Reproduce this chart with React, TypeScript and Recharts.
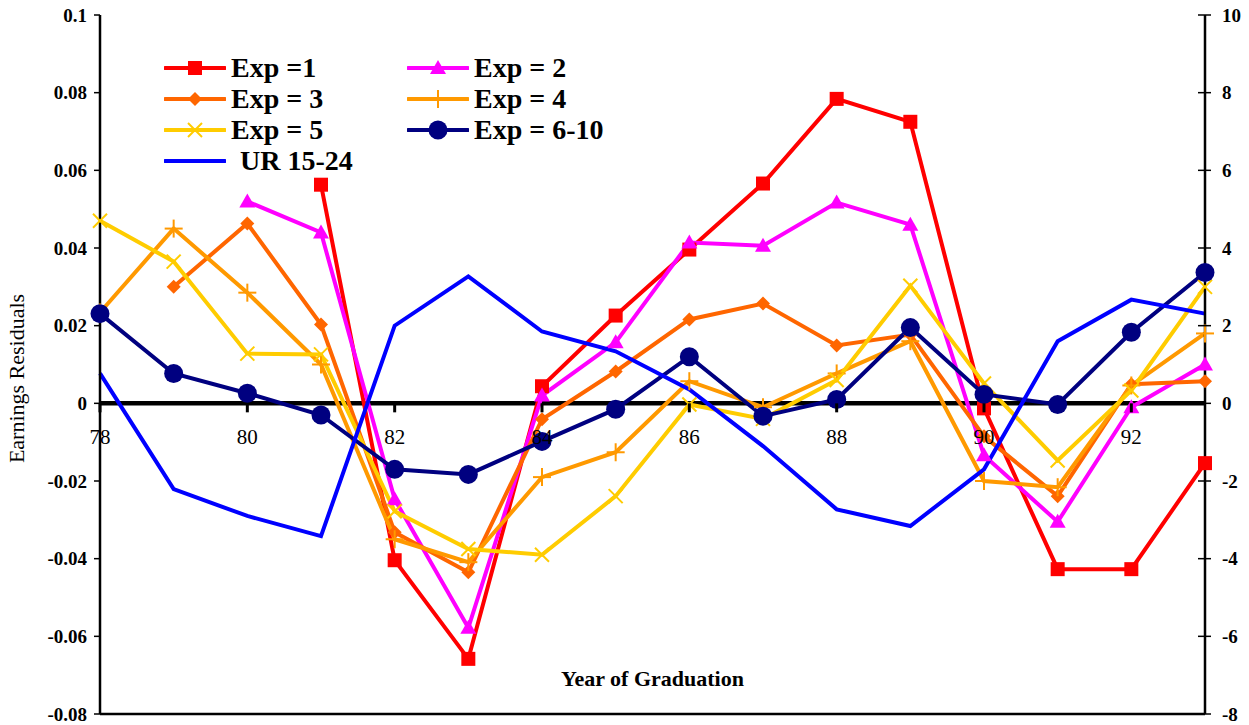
import React from 'react';
import { LineChart, Line, XAxis, YAxis, ReferenceLine, Legend } from 'recharts';

const years = [78, 79, 80, 81, 82, 83, 84, 85, 86, 87, 88, 89, 90, 91, 92, 93];

const exp1 = [null, null, null, 0.0563, -0.0404, -0.0658, 0.0044, 0.0226, 0.0396, 0.0566, 0.0784, 0.0725, -0.0013, -0.0427, -0.0427, -0.0154];
const exp2 = [null, null, 0.052, 0.044, -0.0247, -0.0578, 0.002, 0.0157, 0.0414, 0.0406, 0.0517, 0.046, -0.0134, -0.0305, -0.001, 0.010];
const exp3 = [null, 0.030, 0.0463, 0.0203, -0.0332, -0.0435, -0.0041, 0.0082, 0.0216, 0.0257, 0.0149, 0.0177, -0.0085, -0.0239, 0.0049, 0.0057];
const exp4 = [0.0234, 0.045, 0.0285, 0.010, -0.035, -0.0409, -0.019, -0.0126, 0.0057, -0.001, 0.0077, 0.016, -0.020, -0.0216, 0.0046, 0.018];
const exp5 = [0.047, 0.0365, 0.0128, 0.0126, -0.0278, -0.0375, -0.039, -0.0239, -0.0003, -0.004, 0.006, 0.0303, 0.0051, -0.0147, 0.0033, 0.030];
const exp6to10 = [0.0231, 0.0077, 0.0026, -0.003, -0.017, -0.0183, -0.0098, -0.0015, 0.012, -0.0033, 0.001, 0.0195, 0.0023, -0.0003, 0.0183, 0.0337];
const ur1524 = [0.77, -2.21, -2.9, -3.42, 2.0, 3.27, 1.85, 1.34, 0.36, -1.1, -2.73, -3.16, -1.7, 1.6, 2.67, 2.31];

const xTicks = [78, 80, 82, 84, 86, 88, 90, 92];
const leftTicks = [0.1, 0.08, 0.06, 0.04, 0.02, 0, -0.02, -0.04, -0.06, -0.08];
const rightTicks = [10, 8, 6, 4, 2, 0, -2, -4, -6, -8];

const data = years.map((year, i) => ({
  year,
  exp1: exp1[i],
  exp2: exp2[i],
  exp3: exp3[i],
  exp4: exp4[i],
  exp5: exp5[i],
  exp6to10: exp6to10[i],
  ur: ur1524[i],
}));

const FONT = '"Liberation Serif", "DejaVu Serif", serif';
const W = 1249;
const H = 725;
const TOP = 15;
const BOTTOM = 714;
const RIGHT = 1205;
const ZERO_Y = TOP + ((BOTTOM - TOP) * 0.1) / 0.18;

type MarkerKind = 'square' | 'triangle' | 'diamond' | 'plus' | 'cross' | 'circle' | 'none';

const Marker = ({ kind, cx, cy, color }: { kind: MarkerKind; cx: number; cy: number; color: string }) => {
  switch (kind) {
    case 'square':
      return <rect x={cx - 7} y={cy - 7} width={14} height={14} fill={color} />;
    case 'triangle':
      return <polygon points={`${cx},${cy - 8} ${cx + 8},${cy + 6} ${cx - 8},${cy + 6}`} fill={color} />;
    case 'diamond':
      return <polygon points={`${cx},${cy - 7} ${cx + 7},${cy} ${cx},${cy + 7} ${cx - 7},${cy}`} fill={color} />;
    case 'plus':
      return (
        <g stroke={color} strokeWidth={2}>
          <line x1={cx - 9} x2={cx + 9} y1={cy} y2={cy} />
          <line x1={cx} x2={cx} y1={cy - 9} y2={cy + 9} />
        </g>
      );
    case 'cross':
      return (
        <g stroke={color} strokeWidth={2}>
          <line x1={cx - 7} x2={cx + 7} y1={cy - 7} y2={cy + 7} />
          <line x1={cx - 7} x2={cx + 7} y1={cy + 7} y2={cy - 7} />
        </g>
      );
    case 'circle':
      return <circle cx={cx} cy={cy} r={9.5} fill={color} />;
    default:
      return null;
  }
};

const dotFor = (kind: MarkerKind, color: string) => (props: any) => {
  const { cx, cy, index, value } = props;
  if (value == null || cx == null || cy == null) return <g key={`d-${index}`} />;
  return (
    <g key={`d-${index}`}>
      <Marker kind={kind} cx={cx} cy={cy} color={color} />
    </g>
  );
};

const series: { key: string; name: string; color: string; marker: MarkerKind; axis: string }[] = [
  { key: 'exp1', name: 'Exp =1', color: '#FF0000', marker: 'square', axis: 'left' },
  { key: 'exp2', name: 'Exp = 2', color: '#FF00FF', marker: 'triangle', axis: 'left' },
  { key: 'exp3', name: 'Exp = 3', color: '#FF6600', marker: 'diamond', axis: 'left' },
  { key: 'exp4', name: 'Exp = 4', color: '#FF9900', marker: 'plus', axis: 'left' },
  { key: 'exp5', name: 'Exp = 5', color: '#FFCC00', marker: 'cross', axis: 'left' },
  { key: 'exp6to10', name: 'Exp = 6-10', color: '#000080', marker: 'circle', axis: 'left' },
  { key: 'ur', name: 'UR 15-24', color: '#0000FF', marker: 'none', axis: 'right' },
];

const XTick = (props: any) => {
  const { x, payload } = props;
  return (
    <g>
      <line x1={x} x2={x} y1={ZERO_Y} y2={ZERO_Y + 9} stroke="#000" strokeWidth={3} />
      <text x={x} y={ZERO_Y + 41} textAnchor="middle" fontSize={21} fontFamily={FONT} fill="#000">
        {payload.value}
      </text>
    </g>
  );
};

// right axis ticks cross the axis line
const RightTick = (props: any) => {
  const { y, payload } = props;
  return (
    <g>
      <line x1={RIGHT - 7} x2={RIGHT + 6} y1={y} y2={y} stroke="#000" strokeWidth={1.5} />
      <text x={RIGHT + 17} y={y} dy="0.35em" textAnchor="start" fontSize={19} fontWeight="bold" fontFamily={FONT} fill="#000">
        {payload.value}
      </text>
    </g>
  );
};

const YLabel = (props: any) => {
  const vb = props.viewBox || { x: 0, y: TOP, width: 100, height: BOTTOM - TOP };
  const x = 24;
  const y = vb.y + vb.height * 0.52;
  return (
    <text x={x} y={y} transform={`rotate(-90, ${x}, ${y})`} textAnchor="middle" fontSize={22} fontFamily={FONT} fill="#000">
      Earnings Residuals
    </text>
  );
};

const XLabel = (props: any) => {
  const vb = props.viewBox || { x: 100, y: BOTTOM, width: RIGHT - 100, height: H - BOTTOM };
  return (
    <text x={vb.x + vb.width / 2} y={vb.y - 28} textAnchor="middle" fontSize={22} fontWeight="bold" fontFamily={FONT} fill="#000">
      Year of Graduation
    </text>
  );
};

const LegendBox = () => (
  <div style={{ display: 'grid', gridTemplateColumns: '243px 243px', fontFamily: FONT }}>
    {series.map((s) => (
      <div key={s.key} style={{ display: 'flex', alignItems: 'center', height: 31 }}>
        <svg width={62} height={24} style={{ flex: 'none' }}>
          <line x1={1} x2={61} y1={12} y2={12} stroke={s.color} strokeWidth={4} strokeLinecap="round" />
          <Marker kind={s.marker} cx={31} cy={12} color={s.color} />
        </svg>
        <span style={{ fontWeight: 'bold', fontSize: 28, marginLeft: s.marker === 'none' ? 14 : 5, whiteSpace: 'pre', lineHeight: '31px' }}>
          {s.name}
        </span>
      </div>
    ))}
  </div>
);

export default function App() {
  return (
    <div style={{ position: 'absolute', left: 0, top: 0, width: W, height: H, background: '#fff' }}>
      <LineChart width={W} height={H} data={data} margin={{ top: TOP, right: 0, bottom: 0, left: 0 }}>
        <XAxis
          dataKey="year"
          type="number"
          domain={[78, 93]}
          ticks={xTicks}
          tick={<XTick />}
          tickLine={false}
          axisLine={{ stroke: '#000', strokeWidth: 2.5 }}
          height={H - BOTTOM}
          interval={0}
          label={<XLabel />}
        />
        <XAxis xAxisId="top" orientation="top" dataKey="year" type="number" domain={[78, 93]} height={0} tick={false} tickLine={false} axisLine={{ stroke: '#000', strokeWidth: 2.5 }} />
        <YAxis
          yAxisId="left"
          width={100}
          domain={[-0.08, 0.1]}
          ticks={leftTicks}
          interval={0}
          tick={{ fontSize: 19, fontWeight: 'bold', fill: '#000', fontFamily: FONT }}
          tickLine={{ stroke: '#000', strokeWidth: 1.5 }}
          tickSize={6}
          tickMargin={7}
          axisLine={{ stroke: '#000', strokeWidth: 2.5 }}
          label={<YLabel />}
        />
        <YAxis
          yAxisId="right"
          orientation="right"
          width={W - RIGHT}
          domain={[-8, 10]}
          ticks={rightTicks}
          interval={0}
          tick={<RightTick />}
          tickLine={false}
          axisLine={{ stroke: '#000', strokeWidth: 2.5 }}
        />
        <ReferenceLine yAxisId="left" y={0} stroke="#000" strokeWidth={4.5} />
        {series.map((s) => (
          <Line
            key={s.key}
            yAxisId={s.axis}
            dataKey={s.key}
            name={s.name}
            type="linear"
            stroke={s.color}
            strokeWidth={4}
            dot={s.marker === 'none' ? false : dotFor(s.marker, s.color)}
            activeDot={false}
            connectNulls={false}
            isAnimationActive={false}
          />
        ))}
        <Legend
          layout="vertical"
          align="center"
          verticalAlign="middle"
          content={() => <LegendBox />}
          wrapperStyle={{ position: 'absolute', left: 164, top: 52, width: 490, height: 124 }}
        />
      </LineChart>
    </div>
  );
}
